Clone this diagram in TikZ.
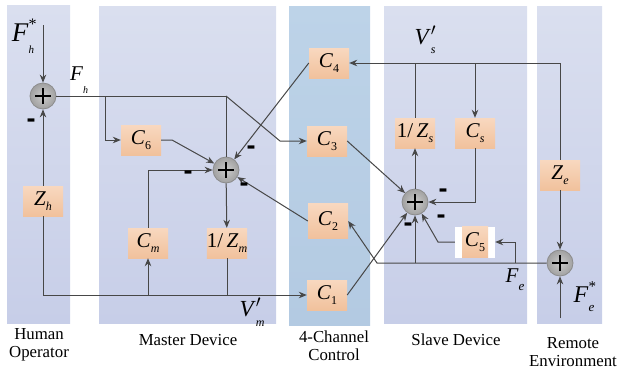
\documentclass[tikz,border=0pt]{standalone}
\usepackage{fontspec}
\setmainfont{Liberation Serif}
\setsansfont{Liberation Sans}
\usetikzlibrary{arrows.meta}
\newcommand\fs[1]{\fontsize{#1}{#1}\selectfont}
\newcommand\Cb[1]{\fs{21}\textit{C}\raisebox{-5pt}{\fs{12}#1}}
\newcommand\Cbi[1]{\fs{21}\textit{C}\raisebox{-5pt}{\fs{12}\textit{#1}}}
\newcommand\Iz[1]{\fs{21}1/\,\textit{Z}\raisebox{-5pt}{\fs{12}\textit{#1}}}
\definecolor{panTop}{HTML}{DADFEF}
\definecolor{panBot}{HTML}{C7CEE8}
\definecolor{chTop}{HTML}{BDD3E8}
\definecolor{chBot}{HTML}{B3CAE2}
\definecolor{boxTop}{HTML}{F8D8BF}
\definecolor{boxBot}{HTML}{F1C19C}
\definecolor{wireCol}{HTML}{474747}
\definecolor{sumFill}{HTML}{BDBDBD}
\definecolor{sumEdge}{HTML}{8C8C8C}
\tikzset{
  panel/.style={draw=none, top color=panTop, bottom color=panBot},
  chpanel/.style={draw=none, top color=chTop, bottom color=chBot},
  blk/.style={rectangle, minimum width=40pt, minimum height=30pt, inner sep=0pt,
    top color=boxTop, bottom color=boxBot},
  whitebox/.style={rectangle, minimum width=40pt, minimum height=31pt, inner sep=0pt, fill=white},
  sumj/.style={circle, minimum size=26pt, inner sep=0pt, inner color=sumFill!80!white, outer color=sumFill!85!black, draw=sumEdge, line width=0.8pt,
    path picture={\draw[line width=1.5pt,black] (path picture bounding box.center) ++(-8pt,0) -- ++(16pt,0);
                  \draw[line width=1.5pt,black] (path picture bounding box.center) ++(0,-8pt) -- ++(0,16pt);}},
  wire/.style={draw=wireCol, line width=1pt},
  arr/.style={wire, -{Stealth[length=8pt,width=6.5pt]}},
  neg/.style={font=\fs{27}\sffamily\bfseries, inner sep=0pt},
  captxt/.style={font=\fs{16.8}, align=center, inner sep=0pt},
  sym/.style={inner sep=0pt}
}
\begin{document}
\begin{tikzpicture}[x=1pt,y=-1pt]
\useasboundingbox (0,0) rectangle (617,373);
% panels
\fill[panel] (7,5) rectangle (70,323);
\fill[panel] (99,6) rectangle (276,323);
\fill[chpanel] (289,6) rectangle (370,325);
\fill[panel] (384,6) rectangle (527,323);
\fill[panel] (537,6) rectangle (602,323);
% summing junctions
\node[sumj] (sh) at (43,96) {};
\node[sumj] (sm) at (226,170) {};
\node[sumj] (ss) at (415,202) {};
\node[sumj] (se) at (560,263) {};
% blocks
\node[blk] (zh) at (43,201) {\fs{21}\textit{Z}\raisebox{-5pt}{\fs{12}\textit{h}}};
\node[blk] (c6) at (141,140) {\Cb{6}};
\node[blk] (cm) at (148,243) {\Cbi{m}};
\node[blk] (izm) at (227,243) {\Iz{m}};
\node[blk] (c4) at (329,63) {\Cb{4}};
\node[blk] (c3) at (327,141) {\Cb{3}};
\node[blk, minimum height=35pt] (c2) at (328,221) {\Cb{2}};
\node[blk] (c1) at (327,295) {\Cb{1}};
\node[blk] (izs) at (415,133) {\Iz{s}};
\node[blk] (cs) at (475,133) {\Cbi{s}};
\node[whitebox] (c5w) at (475,242) {};
\node[blk, minimum width=26pt, minimum height=31pt] (c5) at (475,242) {\Cb{5}};
\node[blk] (ze) at (560,175) {\fs{21}\textit{Z}\raisebox{-5pt}{\fs{12}\textit{e}}};
% coordinates
\coordinate (fhs) at (43,25);
\coordinate (fhb) at (105,96);
\coordinate (fhc) at (226,96);
\coordinate (c3k) at (280,141);
\coordinate (bl) at (43,295);
\coordinate (cmb) at (148,295);
\coordinate (izmb) at (227,295);
\coordinate (c6k) at (172,140);
\coordinate (vs) at (415,63);
\coordinate (csb) at (475,63);
\coordinate (fek) at (377,263);
\coordinate (ssb) at (415,263);
\coordinate (c5b) at (515,263);
\coordinate (c5l) at (438,242);
\coordinate (fes) at (560,318);
% connectors
\draw[arr] (fhs) -- (sh);
\draw[arr] (zh) -- (sh);
\draw[arr] (zh) -- (bl) -- (c1);
\draw[wire] (sh) -- (fhc) -- (sm);
\draw[arr] (fhb) |- (c6);
\draw[arr] (fhc) -- (c3k) -- (c3);
\draw[arr] (c6) -- (c6k) -- (sm);
\draw[arr] (c4.west) -- (sm);
\draw[arr] (cmb) -- (cm);
\draw[arr] (cm) |- (sm);
\draw[arr] (c2.west) -- (sm);
\draw[arr] (sm) -- (izm);
\draw[wire] (izm) -- (izmb);
\draw[arr] (c1.east) -- (ss);
\draw[arr] (c3.east) -- (ss);
\draw[arr] (ss) -- (izs);
\draw[wire] (izs) -- (vs);
\draw[arr] (ze) |- (c4);
\draw[arr] (csb) -- (cs);
\draw[arr] (cs) |- (ss);
\draw[arr] (se) -- (fek) -- (c2.east);
\draw[arr] (ssb) -- (ss);
\draw[arr] (c5b) |- (c5w);
\draw[arr] (c5w.west) -- (c5l) -- (ss);
\draw[arr] (ze) -- (se);
\draw[arr] (fes) -- (se);
% minus signs
\node[neg] (m1) at (31,123) {-};
\node[neg] (m2) at (188,175) {-};
\node[neg] (m3) at (251,150) {-};
\node[neg] (m4) at (244,187) {-};
\node[neg] (m5) at (443,193) {-};
\node[neg] (m6) at (441,219) {-};
\node[neg] (m7) at (408,227) {-};
% signal labels
\node[sym] (lfhs) at (23,36) {\fs{27}\textit{F}\rlap{\raisebox{12pt}{\fs{16}*}}\raisebox{-12pt}{\fs{11}\textit{h}}};
\node[sym] (lfh) at (79,80) {\fs{21}\textit{F}\raisebox{-13pt}{\fs{10}\textit{h}}};
\node[sym] (lvs) at (425,40) {\fs{23}\textit{V}\rlap{\raisebox{0pt}{\fs{23}$'$}}\raisebox{-9pt}{\fs{12}\textit{s}}};
\node[sym] (lvm) at (252,312) {\fs{23}\textit{V}\rlap{\raisebox{0pt}{\fs{23}$'$}}\raisebox{-10pt}{\fs{12}\textit{m}}};
\node[sym] (lfe) at (515,280) {\fs{21}\textit{F}\raisebox{-8pt}{\fs{13}\textit{e}}};
\node[sym] (lfes) at (584,297) {\fs{24}\textit{F}\rlap{\raisebox{11pt}{\fs{15}*}}\raisebox{-9pt}{\fs{13}\textit{e}}};
% panel captions
\node[captxt] (t1) at (39,345) {Human\\[1pt]Operator};
\node[captxt] (t2) at (188,340) {Master Device};
\node[captxt] (t3) at (334,346) {4-Channel\\[1pt]Control};
\node[captxt] (t4) at (456,340) {Slave Device};
\node[captxt] (t5) at (573,352) {Remote\\[1pt]Environment};
\end{tikzpicture}
\end{document}
